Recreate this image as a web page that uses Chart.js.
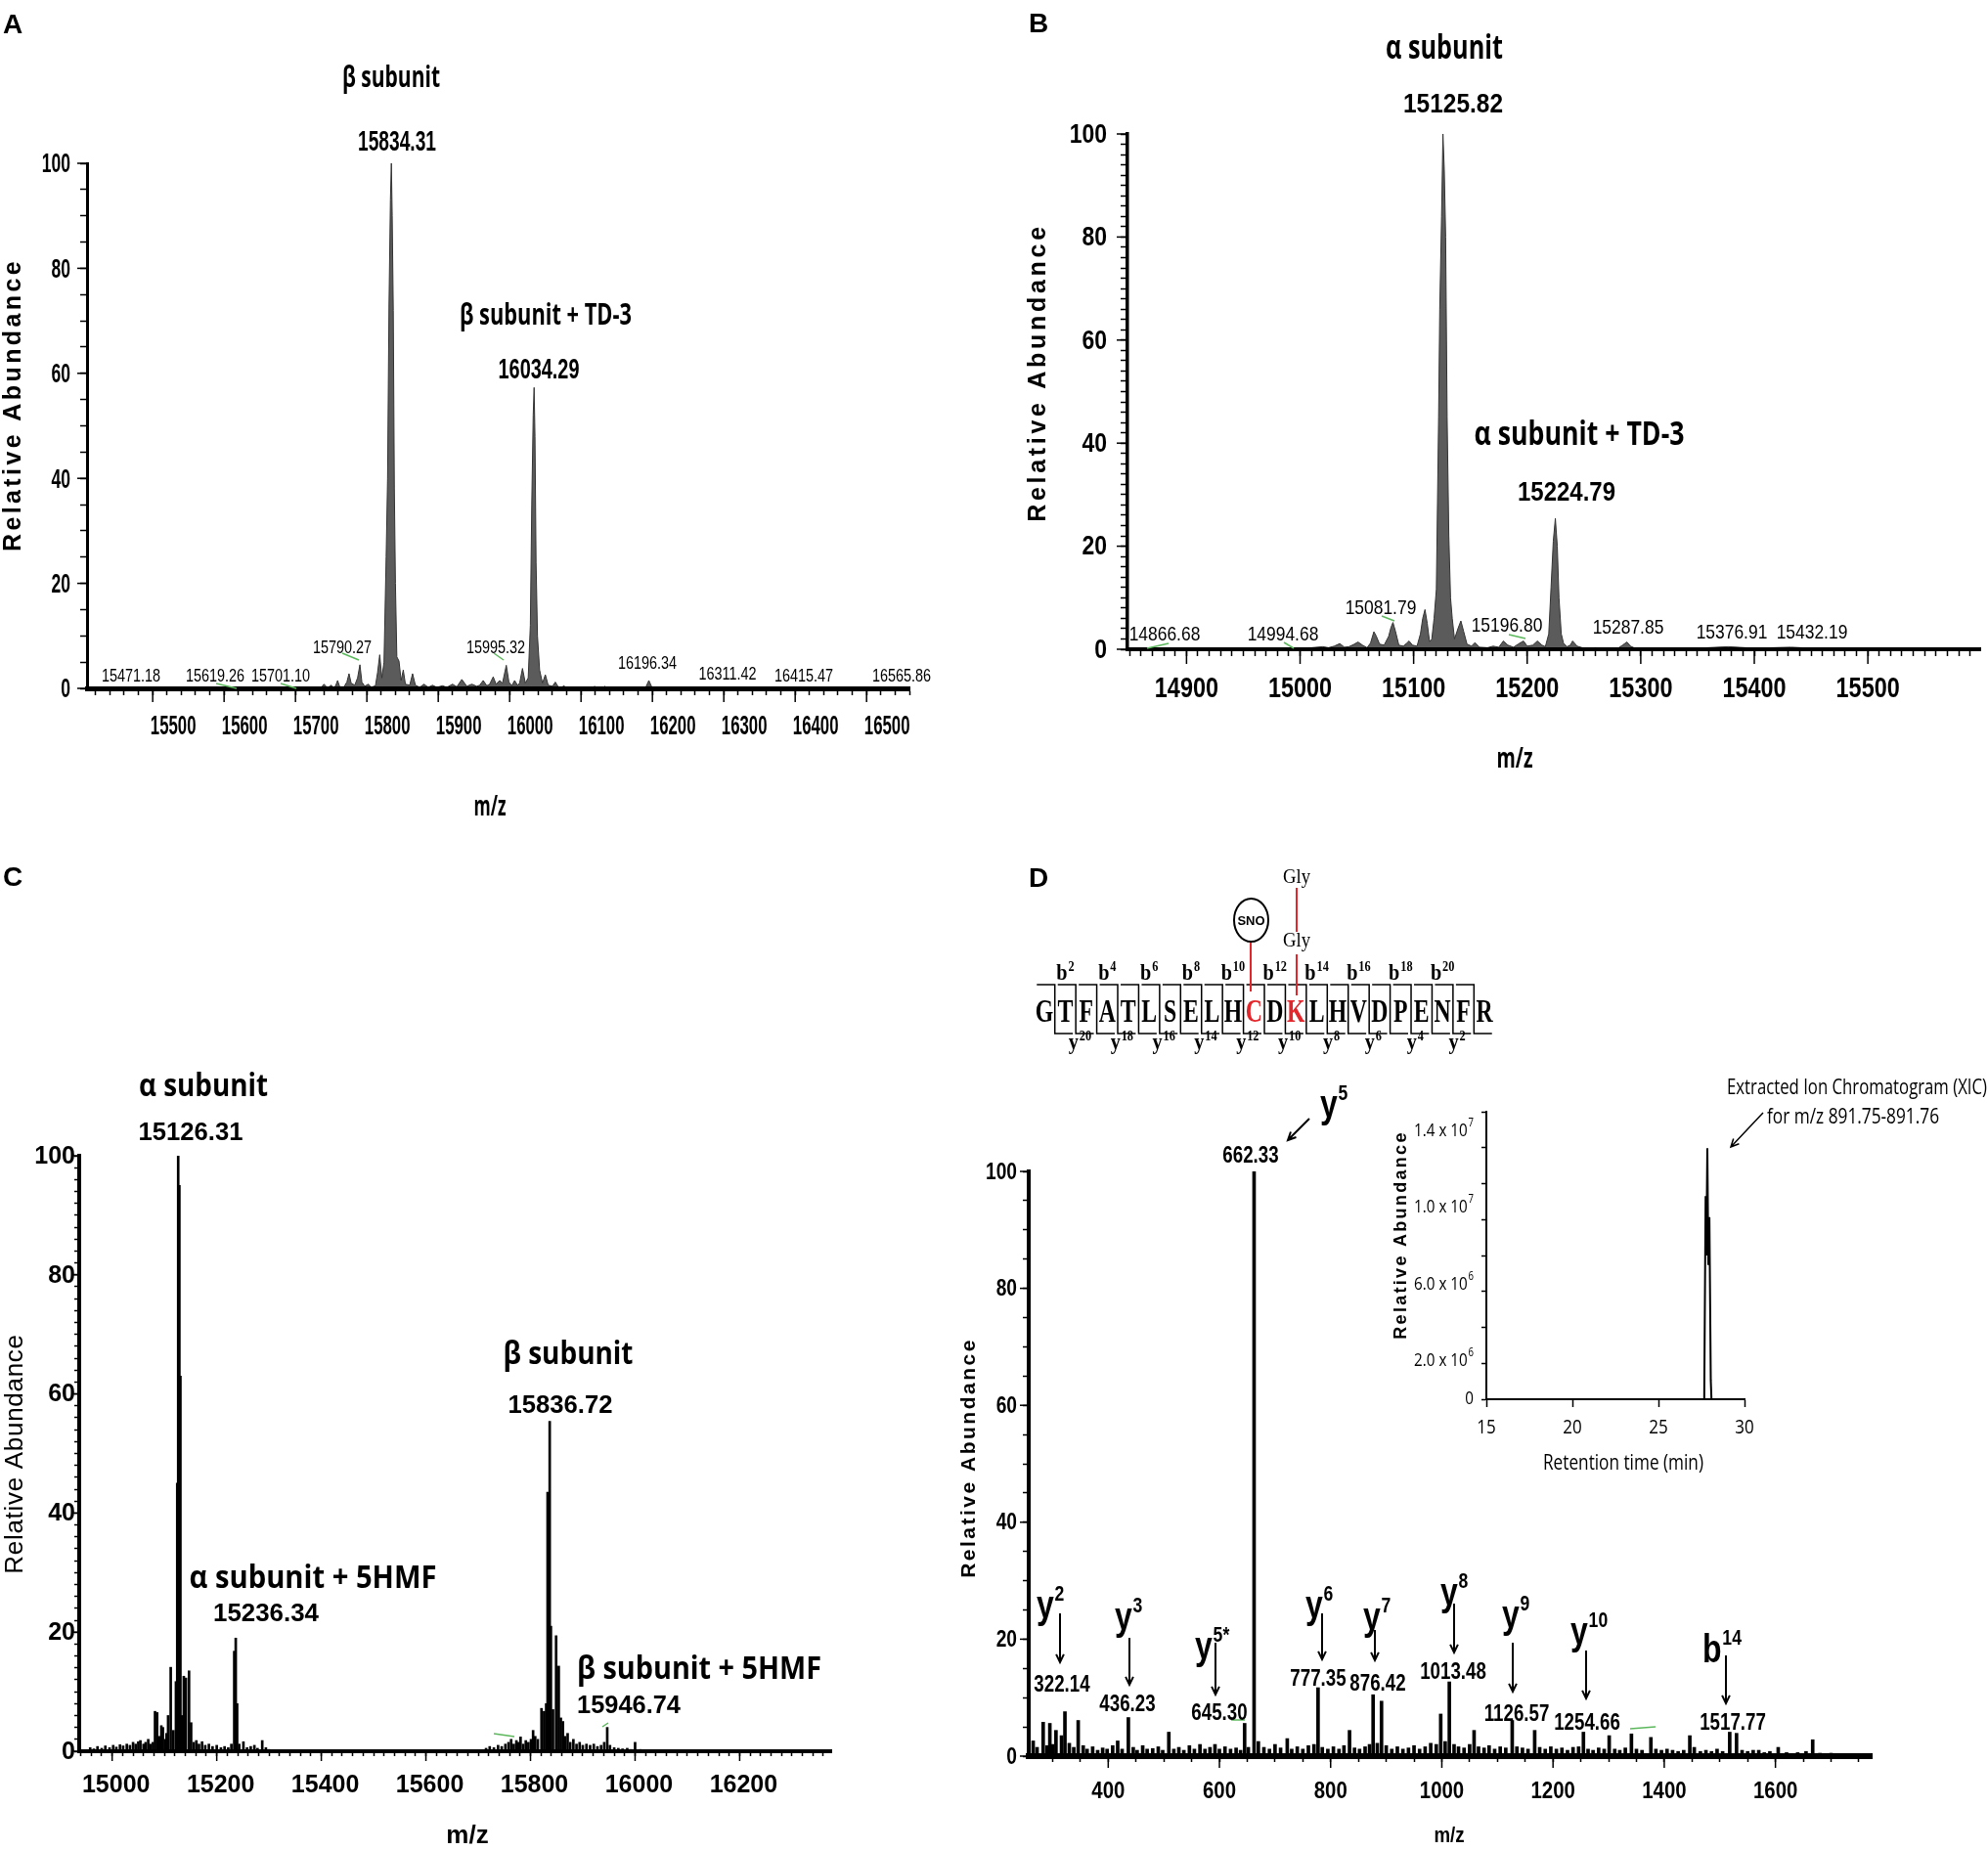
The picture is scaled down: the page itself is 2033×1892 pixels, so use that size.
<!DOCTYPE html>
<html lang="en">
<head>
  <meta charset="UTF-8" />
  <title>Hemoglobin subunits - deconvoluted spectra and MS/MS</title>
  <script src="https://cdn.jsdelivr.net/npm/chart.js"></script>
  <style>
    html, body { margin: 0; padding: 0; background: #fff; }
    #page { position: relative; width: 2033px; height: 1892px; overflow: hidden; background: #fff; }
    #page canvas { position: absolute; left: 0; top: 0; }
  </style>
</head>
<body>
  <div id="page">
    <canvas id="panelA" width="2033" height="1892"></canvas>
    <canvas id="panelB" width="2033" height="1892"></canvas>
    <canvas id="panelC" width="2033" height="1892"></canvas>
    <canvas id="panelD" width="2033" height="1892"></canvas>
    <canvas id="panelXic" width="2033" height="1892"></canvas>
  </div>

  <script>
    // ---------- values ----------
    // A: beta subunit, deconvoluted profile (m/z, relative abundance)
    const aMz = [
      15408, 15735, 15740, 15744, 15747, 15750, 15753, 15756, 15759, 15762,
      15768, 15772, 15775, 15778, 15783, 15787, 15790.27, 15793, 15797, 15802,
      15806, 15812, 15815, 15818, 15821, 15824, 15827, 15829, 15831, 15833,
      15834.31, 15835.5, 15837, 15838.5, 15840, 15842, 15845, 15848, 15851, 15854,
      15860, 15864, 15868, 15874, 15880, 15886, 15892, 15898, 15906, 15912,
      15920, 15926, 15933, 15940, 15947, 15954, 15958, 15963, 15968, 15972,
      15977, 15981, 15986, 15990, 15995.32, 15999, 16003, 16007, 16011, 16014,
      16018, 16022, 16026, 16029, 16031, 16033, 16034.29, 16035.5, 16037, 16039,
      16042, 16046, 16050, 16054, 16060, 16064, 16068, 16073, 16076, 16080,
      16115, 16119, 16123, 16130, 16133, 16136, 16190, 16195, 16200, 16560
    ];
    const aAb = [
      0, 0, 0.8, 0.2, 0.3, 0.6, 0.2, 0.4, 1.5, 0.3,
      0.3, 1.2, 2.8, 1.0, 0.6, 2.0, 4.5, 1.2, 0.4, 0.8,
      0.2, 0.5, 3.0, 6.4, 2.0, 5.0, 25, 40, 73, 93,
      100, 90, 72, 38, 20, 6.0, 5.2, 1.5, 3.5, 0.8,
      0.6, 2.8, 0.6, 0.2, 0.8, 0.2, 0.6, 0.2, 0.5, 0.2,
      0.8, 0.3, 1.7, 0.4, 0.8, 0.4, 0.6, 1.5, 0.5, 0.8,
      2.2, 0.8, 1.5, 1.0, 4.4, 1.2, 0.5, 1.5, 0.6, 1.0,
      3.8, 1.0, 2.0, 12, 35, 52, 57.3, 48, 24, 10,
      3.5, 1.0, 2.6, 0.6, 0.4, 1.2, 0.3, 0.2, 0.5, 0,
      0, 0.4, 0, 0, 0.4, 0, 0, 1.5, 0, 0
    ];

    // B: alpha subunit, deconvoluted profile
    const bMz = [
      14848, 14870, 14900, 14940, 14980, 15010, 15020, 15025, 15030, 15035,
      15039, 15043, 15047, 15051, 15055, 15059, 15062, 15065, 15067, 15070,
      15074, 15078, 15080, 15081.79, 15084, 15087, 15091, 15094, 15096, 15099,
      15103, 15106, 15108, 15110, 15112, 15114, 15116, 15118, 15120, 15122,
      15123, 15124.6, 15125.82, 15127, 15128.2, 15129.5, 15131, 15132.5, 15134, 15136,
      15139, 15141.6, 15144, 15147, 15151, 15154, 15158, 15165, 15170, 15175,
      15179, 15183, 15188, 15192, 15196.8, 15200, 15205, 15209, 15213, 15216,
      15219, 15221, 15223, 15224.79, 15226.5, 15228, 15230, 15232, 15235, 15238,
      15240, 15244, 15250, 15260, 15270, 15280, 15284, 15287.85, 15291, 15296,
      15320, 15350, 15376.91, 15400, 15432.19, 15450, 15470, 15480, 15599
    ];
    const bAb = [
      0, 0.2, 0.1, 0.2, 0.2, 0.3, 0.5, 0.3, 0.6, 1.1,
      0.4, 0.5, 0.9, 1.4, 0.8, 0.3, 1.2, 3.4, 2.6, 1.0,
      0.8, 2.5, 4.2, 5.2, 3.5, 0.8, 0.6, 1.2, 1.6, 0.8,
      0.6, 3.0, 6.0, 7.7, 5.0, 1.5, 2.0, 6.0, 11.6, 45,
      66, 84, 100, 93, 80, 45, 22, 10, 6.0, 2.0,
      4.0, 5.5, 3.5, 1.0, 0.6, 1.3, 0.4, 0.3, 0.6, 0.4,
      1.6, 0.8, 0.4, 1.0, 1.6, 0.6, 0.8, 1.6, 0.8, 0.5,
      3.0, 12, 21, 25.4, 20, 10, 3.0, 1.2, 0.5, 0.8,
      1.6, 0.6, 0.2, 0.3, 0.2, 0.2, 0.8, 1.4, 0.6, 0.1,
      0.2, 0.2, 0.5, 0.2, 0.4, 0.2, 0.2, 0, 0
    ];

    // C: alpha + beta with 5HMF, centroid sticks
    const cMz = [
      14958, 14965, 14972, 14980, 14987, 14995, 15002, 15008, 15015, 15021,
      15028, 15034, 15040, 15045, 15050, 15054, 15060, 15064, 15069, 15073,
      15078, 15082, 15086, 15090, 15094, 15097, 15101, 15104, 15107, 15112,
      15117, 15122, 15124.5, 15126.31, 15128.5, 15130.5, 15134, 15137, 15141, 15147,
      15151, 15156, 15161, 15166, 15172, 15178, 15185, 15192, 15200, 15208,
      15215, 15222, 15228, 15233.5, 15236.34, 15239, 15243, 15251, 15258, 15265,
      15272, 15278, 15287, 15294, 15300, 15715, 15722, 15730, 15738, 15745,
      15752, 15758, 15763, 15768, 15773, 15777, 15781, 15786, 15791, 15796,
      15801, 15805, 15809, 15814, 15821, 15826, 15830, 15832.7, 15836.72, 15839,
      15843, 15849, 15854, 15858, 15862, 15866, 15871, 15876, 15882, 15888,
      15894, 15900, 15907, 15914, 15921, 15928, 15935, 15941, 15946.74, 15952,
      15960, 15968, 15976, 15985, 15992, 16000, 16010, 16025
    ];
    const cAb = [
      0.6, 0.4, 0.8, 0.5, 0.9, 0.6, 1.0, 0.7, 1.1, 0.9,
      1.2, 1.0, 1.5, 1.2, 1.6, 1.8, 1.2, 1.5, 2.0, 1.2,
      1.5, 6.7, 6.5, 2.5, 4.3, 4.0, 2.0, 3.0, 6.0, 14.1,
      3.5, 11.7, 45, 100, 95, 63, 6.0, 12.6, 12.3, 13.5,
      4.8, 1.5, 1.8, 1.2, 1.6, 1.0, 1.2, 0.8, 1.0, 0.6,
      0.8, 0.6, 1.2, 16.8, 19, 8.0, 1.2, 1.6, 0.6, 0.8,
      1.0, 0.5, 1.8, 0.6, 0.3, 0.5, 0.8, 0.6, 1.0, 0.8,
      1.2, 1.5, 2.0, 1.2, 1.8, 1.5, 2.4, 1.2, 1.8, 1.5,
      2.0, 3.5, 2.5, 2.0, 7.2, 6.7, 8.0, 43.5, 55.4, 21,
      7.0, 19.4, 14.3, 5.6, 5.0, 2.5, 3.0, 1.5, 2.0, 1.2,
      1.5, 1.0, 1.2, 1.0, 1.2, 0.8, 1.0, 1.5, 4.0, 1.0,
      0.6, 0.5, 0.4, 0.5, 0.3, 1.5, 0.3, 0.2
    ];

    // D: MS/MS of the cross-linked peptide
    const dMz = [
      265, 272, 283, 290, 295, 300, 306, 316, 322.14, 330,
      338, 346, 355, 362, 372, 381, 390, 398, 408, 417,
      425, 436.23, 445, 452, 462, 470, 480, 490, 498, 509,
      518, 527, 536, 546, 555, 565, 574, 583, 592, 600,
      610, 620, 630, 638, 645.3, 652, 662.33, 670, 680, 690,
      700, 710, 722, 730, 740, 750, 760, 770, 777.35, 785,
      795, 805, 815, 824, 834, 843, 852, 862, 870, 876.42,
      884, 891.5, 900, 910, 920, 930, 940, 950, 960, 970,
      980, 990, 998, 1006, 1013.48, 1022, 1030, 1040, 1050, 1058,
      1066, 1076, 1085, 1095, 1105, 1115, 1126.57, 1135, 1145, 1155,
      1167, 1176, 1186, 1196, 1206, 1216, 1226, 1236, 1246, 1254.66,
      1263, 1272, 1282, 1292, 1301, 1311, 1320, 1330, 1341, 1350,
      1360, 1376, 1385, 1395, 1405, 1415, 1425, 1435, 1446, 1454,
      1465, 1475, 1485, 1495, 1505, 1517.77, 1530, 1540, 1550, 1560,
      1570, 1580, 1590, 1605, 1620, 1640, 1655, 1667, 1680, 1700,
      1720, 1740, 1760
    ];
    const dAb = [
      2.6, 1.5, 5.8, 1.8, 5.6, 2.0, 4.4, 3.5, 7.6, 2.2,
      1.5, 6.1, 1.8, 1.2, 1.6, 1.0, 1.4, 1.2, 1.8, 2.6,
      1.2, 6.6, 1.5, 1.0, 1.8, 1.2, 1.3, 1.6, 1.0, 4.1,
      1.2, 1.5, 1.0, 1.8, 1.2, 2.0, 1.2, 1.5, 2.0, 1.2,
      1.6, 1.2, 1.4, 1.0, 5.6, 1.5, 100, 2.5, 1.5, 1.2,
      2.0, 1.4, 3.0, 1.2, 1.6, 1.2, 1.8, 2.0, 11.7, 1.5,
      1.2, 1.6, 1.2, 1.8, 4.4, 1.4, 1.2, 1.6, 2.0, 10.5,
      2.2, 9.4, 1.8, 1.2, 1.6, 1.2, 1.4, 1.8, 1.2, 1.6,
      2.2, 2.0, 7.2, 2.5, 12.7, 2.0, 1.6, 1.4, 2.0, 4.4,
      1.6, 1.4, 1.8, 1.2, 1.6, 1.4, 6.1, 1.6, 1.4, 1.2,
      4.4, 1.5, 1.2, 1.6, 1.2, 1.4, 1.0, 1.5, 1.6, 4.1,
      1.2, 1.0, 1.4, 1.2, 3.5, 1.2, 1.0, 1.4, 3.8, 1.2,
      1.0, 3.2, 1.2, 1.0, 1.2, 1.0, 0.8, 1.0, 3.5, 1.5,
      0.8, 1.0, 0.8, 1.2, 0.8, 4.1, 3.9, 1.0, 0.8, 1.0,
      1.0, 0.6, 0.8, 1.5, 0.6, 0.6, 0.8, 2.8, 0.5, 0.5,
      0.4, 0.4, 0.3
    ];

    // D inset: extracted ion chromatogram
    const xicTime = [15, 27.66, 27.74, 27.78, 27.84, 27.9, 27.96, 28.04, 28.08, 30];
    const xicInt = [0, 0, 1.06e7, 7.5e6, 1.31e7, 7.0e6, 9.5e6, 1.0e6, 0, 0];

    // tick labels
    const aXTicks = [15500, 15600, 15700, 15800, 15900, 16000, 16100, 16200, 16300, 16400, 16500];
    const bXTicks = [14900, 15000, 15100, 15200, 15300, 15400, 15500];
    const cXTicks = [15000, 15200, 15400, 15600, 15800, 16000, 16200];
    const dXTicks = [400, 600, 800, 1000, 1200, 1400, 1600];
    const abTicks = [0, 20, 40, 60, 80, 100];
    const xicXTicks = [15, 20, 25, 30];
    const xicYTicks = [0, 2e6, 6e6, 1e7, 1.4e7];
    const xicYLabels = [['0', ''], ['2.0 x 10', '6'], ['6.0 x 10', '6'], ['1.0 x 10', '7'], ['1.4 x 10', '7']];

    // peptide sequence and fragment ladder
    const peptide = 'GTFATLSELHCDKLHVDPENFR';
    const bIons = [2, 4, 6, 8, 10, 12, 14, 16, 18, 20];
    const yIons = [20, 18, 16, 14, 12, 10, 8, 6, 4, 2];

    // ---------- drawing helpers ----------
    const W = 2033, H = 1892, FIT = 1;
    const ARIAL = '"Liberation Sans", Arial, sans-serif';
    const SANS = '"Open Sans", "Noto Sans", sans-serif';
    const SERIF = '"Liberation Serif", "Times New Roman", serif';
    const RED = '#e3262b';

    function seg(ctx, x1, y1, x2, y2) {
      ctx.beginPath(); ctx.moveTo(x1, y1); ctx.lineTo(x2, y2); ctx.stroke();
    }

    function arrow(ctx, x1, y1, x2, y2, head, lw) {
      const ang = Math.atan2(y2 - y1, x2 - x1);
      ctx.lineWidth = lw;
      ctx.beginPath();
      ctx.moveTo(x1, y1); ctx.lineTo(x2, y2);
      ctx.moveTo(x2 - head * Math.cos(ang - 0.45), y2 - head * Math.sin(ang - 0.45));
      ctx.lineTo(x2, y2);
      ctx.lineTo(x2 - head * Math.cos(ang + 0.45), y2 - head * Math.sin(ang + 0.45));
      ctx.stroke();
    }

    // text with optional superscript, horizontal squeeze (sx) or fit width (w)
    function drawText(ctx, t) {
      ctx.save();
      ctx.fillStyle = t.color || '#000';
      ctx.textBaseline = t.base || 'middle';
      ctx.textAlign = 'left';
      if (t.ls && 'letterSpacing' in ctx) ctx.letterSpacing = t.ls + 'px';
      ctx.font = t.font;
      const wb = ctx.measureText(t.text).width;
      let ws = 0;
      if (t.sup) { ctx.font = t.supFont; ws = ctx.measureText(t.sup).width + 1; ctx.font = t.font; }
      const nat = wb + ws;
      const sx = t.w ? t.w / nat : (t.sx || 1);
      ctx.translate(t.x, t.y);
      if (t.rot) ctx.rotate(t.rot);
      ctx.scale(sx, 1);
      const al = t.align || 'center';
      const ox = al === 'center' ? -nat / 2 : (al === 'right' ? -nat : 0);
      ctx.fillText(t.text, ox, 0);
      if (t.sup) { ctx.font = t.supFont; ctx.fillText(t.sup, ox + wb + 1, -(t.supDy || 0)); }
      ctx.restore();
    }

    function annotator(cfg) {
      return {
        id: 'annot',
        afterDraw(chart) {
          const ctx = chart.ctx, xs = chart.scales.x, ys = chart.scales.y, a = chart.chartArea;
          ctx.save();
          ctx.strokeStyle = '#000';
          ctx.lineWidth = 1.5;
          if (cfg.xMajor) cfg.xLabels.values.forEach(v => {
            const px = xs.getPixelForValue(v); seg(ctx, px, a.bottom, px, a.bottom + cfg.xMajor);
          });
          if (cfg.yMajor) cfg.yLabels.values.forEach(v => {
            const py = ys.getPixelForValue(v); seg(ctx, a.left, py, a.left - cfg.yMajor, py);
          });
          const xl = cfg.xLabels;
          xl.values.forEach(v => drawText(ctx, {
            text: String(v), x: xs.getPixelForValue(v) + (xl.dx || 0), y: xl.y, font: xl.font, sx: xl.sx
          }));
          const yl = cfg.yLabels;
          yl.values.forEach((v, i) => {
            const lab = yl.text ? yl.text[i] : [String(v), ''];
            drawText(ctx, {
              text: lab[0], sup: lab[1], supFont: yl.supFont, supDy: yl.supDy,
              x: yl.x, y: ys.getPixelForValue(v) + (yl.dy || 0), font: yl.font, sx: yl.sx, align: 'right'
            });
          });
          ctx.strokeStyle = '#5cb85c';
          ctx.lineWidth = 1.5;
          (cfg.leaders || []).forEach(l => seg(ctx, l[0], l[1], l[2], l[3]));
          ctx.strokeStyle = '#000';
          (cfg.arrows || []).forEach(r => arrow(ctx, r[0], r[1], r[2], r[3], 9, r[4] || 2));
          (cfg.texts || []).forEach(t => drawText(ctx, t));
          if (cfg.extra) cfg.extra(ctx);
          ctx.restore();
        }
      };
    }

    function linScale(min, max, step, tickLen, borderW, isX) {
      return {
        type: 'linear', min, max, offset: false,
        border: { display: true, color: '#000', width: borderW, z: 1 },
        grid: { display: true, drawOnChartArea: false, drawTicks: true, tickLength: tickLen, tickWidth: 1.5, tickColor: '#000', offset: false },
        ticks: { stepSize: step, autoSkip: false, includeBounds: false, maxRotation: 0, color: 'rgba(0,0,0,0)', font: { size: 10 } },
        afterFit(s) { if (isX) s.height = FIT; else s.width = FIT; }
      };
    }

    function makeChart(id, g, type, dataset, annot) {
      return new Chart(document.getElementById(id), {
        type,
        data: { datasets: [dataset] },
        options: {
          responsive: false, animation: false, devicePixelRatio: 1, events: [],
          layout: { autoPadding: false, padding: { left: g.L - FIT, right: W - g.R, top: g.T, bottom: H - g.B - FIT } },
          plugins: { legend: { display: false }, tooltip: { enabled: false } },
          scales: {
            x: linScale(g.x[0], g.x[1], g.x[2], g.tx, g.bx, true),
            y: linScale(0, g.ymax, g.ystep, g.ty, g.by, false)
          }
        },
        plugins: [annotator(annot)]
      });
    }

    const pts = (xs, ys) => xs.map((x, i) => ({ x, y: ys[i] }));
    const profile = (xs, ys) => ({
      data: pts(xs, ys), borderColor: '#333', borderWidth: 1, backgroundColor: '#5b5b5b',
      fill: 'origin', pointRadius: 0, tension: 0
    });
    const sticks = (xs, ys, thick) => ({
      data: pts(xs, ys), backgroundColor: '#000', borderWidth: 0, barThickness: thick, grouped: false
    });
    const small = (text, x, y, size, sx) => ({ text, x, y, font: size + 'px ' + ARIAL, sx });
    const bold = (text, x, y, size, fam, w) => ({ text, x, y, font: 'bold ' + size + 'px ' + fam, w });
    const letter = (text, x, y) => ({ text, x, y, base: 'alphabetic', align: 'left', font: 'bold 28px ' + ARIAL });
    const ion = (b, s, x, y) => ({
      text: b, sup: s, x, y, base: 'alphabetic', align: 'left',
      font: 'bold 40px ' + ARIAL, supFont: 'bold 22px ' + ARIAL, supDy: 18, sx: 0.8
    });
    const num = (text, x, y) => ({ text, x, y, font: 'bold 24px ' + ARIAL, sx: 0.78 });
    const vTitle = (x, y, font, ls) => ({ text: 'Relative Abundance', x, y, rot: -Math.PI / 2, font, ls });

    // ---------- panel A ----------
    makeChart('panelA',
      { L: 89, R: 930, T: 167, B: 704, x: [15408, 16560, 20], ymax: 100, ystep: 5, tx: 7, ty: 7, bx: 5, by: 3 },
      'line', profile(aMz, aAb),
      {
        xLabels: { values: aXTicks, y: 743, dx: 21, font: 'bold 28px ' + ARIAL, sx: 0.6 },
        yLabels: { values: abTicks, x: 72, dy: 2, font: 'bold 27px ' + ARIAL, sx: 0.65 },
        xMajor: 14, yMajor: 10,
        leaders: [[221, 699, 242, 704], [287, 699, 303, 704], [350, 668, 367, 675], [505, 668, 515, 675]],
        texts: [
          letter('A', 3, 34),
          vTitle(14, 414, 'bold 25px ' + ARIAL, 3.4),
          bold('m/z', 501, 826, 28, SANS, 33),
          bold('β subunit', 400, 80, 30, SANS, 100),
          bold('15834.31', 406, 146, 29, ARIAL, 80),
          bold('β subunit + TD-3', 558, 323, 30, SANS, 176),
          bold('16034.29', 551, 379, 29, ARIAL, 83),
          small('15471.18', 134, 692, 19, 0.76), small('15619.26', 220, 692, 19, 0.76),
          small('15701.10', 287, 692, 19, 0.76), small('15790.27', 350, 663, 19, 0.76),
          small('15995.32', 507, 663, 19, 0.76), small('16196.34', 662, 679, 19, 0.76),
          small('16311.42', 744, 690, 19, 0.76), small('16415.47', 822, 692, 19, 0.76),
          small('16565.86', 922, 692, 19, 0.76)
        ]
      });

    // ---------- panel B ----------
    makeChart('panelB',
      { L: 1153, R: 2028, T: 137, B: 664, x: [14848, 15599, 10], ymax: 100, ystep: 2, tx: 7, ty: 7, bx: 4, by: 3.5 },
      'line', profile(bMz, bAb),
      {
        xLabels: { values: bXTicks, y: 705, font: 'bold 30px ' + ARIAL, sx: 0.78 },
        yLabels: { values: abTicks, x: 1132, dy: 1, font: 'bold 28px ' + ARIAL, sx: 0.82 },
        xMajor: 15, yMajor: 11,
        leaders: [[1173, 663, 1195, 658], [1313, 657, 1323, 663], [1413, 630, 1426, 635], [1543, 649, 1560, 653]],
        texts: [
          letter('B', 1052, 33),
          vTitle(1062, 381, 'bold 25px ' + ARIAL, 3.7),
          bold('m/z', 1549, 777, 28, SANS, 37),
          bold('α subunit', 1477, 50, 34, SANS, 120),
          bold('15125.82', 1486, 107, 28, ARIAL, 102),
          bold('α subunit + TD-3', 1615, 445, 34, SANS, 215),
          bold('15224.79', 1602, 504, 28, ARIAL, 100),
          small('14866.68', 1191, 649, 21, 0.83), small('14994.68', 1312, 649, 21, 0.83),
          small('15081.79', 1412, 622, 21, 0.83), small('15196.80', 1541, 640, 21, 0.83),
          small('15287.85', 1665, 642, 21, 0.83), small('15376.91', 1771, 647, 21, 0.83),
          small('15432.19', 1853, 647, 21, 0.83)
        ]
      });

    // ---------- panel C ----------
    makeChart('panelC',
      { L: 81, R: 850, T: 1182, B: 1791, x: [14937, 16375, 20], ymax: 100, ystep: 2, tx: 5, ty: 5, bx: 4, by: 4 },
      'bar', sticks(cMz, cAb, 2),
      {
        xLabels: { values: cXTicks, y: 1826, dx: 4, font: 'bold 25px ' + ARIAL, sx: 1 },
        yLabels: { values: abTicks, x: 77, dy: 1, font: 'bold 25px ' + ARIAL, sx: 1 },
        xMajor: 10, yMajor: 8,
        leaders: [[505, 1773, 526, 1776], [616, 1766, 622, 1762]],
        texts: [
          letter('C', 3, 906),
          vTitle(16, 1487, '26px ' + ARIAL, 0.7),
          { text: 'm/z', x: 478, y: 1878, font: 'bold 26px ' + ARIAL },
          bold('α subunit', 208, 1112, 33, SANS, 132),
          bold('15126.31', 195, 1159, 26, ARIAL, 107),
          bold('β subunit', 581, 1386, 33, SANS, 133),
          bold('15836.72', 573, 1438, 26, ARIAL, 107),
          bold('α subunit + 5HMF', 320, 1615, 33, SANS, 253),
          bold('15236.34', 272, 1651, 26, ARIAL, 108),
          bold('β subunit + 5HMF', 715, 1708, 33, SANS, 250),
          bold('15946.74', 643, 1745, 26, ARIAL, 106)
        ]
      });

    // ---------- panel D ----------
    function drawPeptide(ctx) {
      const x0 = 1068, sp = 21.43, top = 1007, bot = 1057;
      ctx.save();
      ctx.strokeStyle = '#000';
      ctx.lineWidth = 1.5;
      for (let i = 0; i < peptide.length - 1; i++) {
        const gx = x0 + (i + 0.5) * sp;
        ctx.beginPath();
        ctx.moveTo(gx - sp + 3, top); ctx.lineTo(gx, top); ctx.lineTo(gx, bot); ctx.lineTo(gx + sp - 3, bot);
        ctx.stroke();
      }
      peptide.split('').forEach((ch, i) => drawText(ctx, {
        text: ch, x: x0 + i * sp, y: 1045, base: 'alphabetic', font: 'bold 33px ' + SERIF, sx: 0.72,
        color: (i === 10 || i === 12) ? RED : '#000'
      }));
      bIons.forEach(n => drawText(ctx, {
        text: 'b', sup: String(n), x: x0 + (n - 1) * sp, y: 1002, base: 'alphabetic',
        font: 'bold 23px ' + SERIF, supFont: 'bold 14px ' + SERIF, supDy: 9, sx: 0.88
      }));
      yIons.forEach(n => drawText(ctx, {
        text: 'y', sup: String(n), x: x0 + (22 - n - 0.3) * sp, y: 1073, base: 'alphabetic',
        font: 'bold 23px ' + SERIF, supFont: 'bold 14px ' + SERIF, supDy: 9, sx: 0.88
      }));
      // S-nitroso tag on Cys and Gly-Gly on Lys
      ctx.lineWidth = 2;
      ctx.beginPath();
      ctx.ellipse(1279.5, 941, 17.5, 22, 0, 0, Math.PI * 2);
      ctx.stroke();
      drawText(ctx, { text: 'SNO', x: 1279.5, y: 942, font: 'bold 13px ' + ARIAL });
      ctx.strokeStyle = RED;
      seg(ctx, 1279, 964, 1279, 1014);
      seg(ctx, 1326, 908, 1326, 953);
      seg(ctx, 1326, 976, 1326, 1018);
      drawText(ctx, { text: 'Gly', x: 1326, y: 903, base: 'alphabetic', font: '22px ' + SERIF, sx: 0.85 });
      drawText(ctx, { text: 'Gly', x: 1326, y: 968, base: 'alphabetic', font: '22px ' + SERIF, sx: 0.85 });
      ctx.restore();
    }

    makeChart('panelD',
      { L: 1052, R: 1914, T: 1198, B: 1796, x: [257, 1773, 50], ymax: 100, ystep: 5, tx: 6, ty: 6, bx: 6, by: 4 },
      'bar', sticks(dMz, dAb, 3),
      {
        xLabels: { values: dXTicks, y: 1832, font: 'bold 24px ' + ARIAL, sx: 0.85 },
        yLabels: { values: abTicks, x: 1040, dy: 1, font: 'bold 24px ' + ARIAL, sx: 0.8 },
        xMajor: 12, yMajor: 9,
        leaders: [[1259, 1759, 1273, 1759], [1667, 1768, 1693, 1766]],
        arrows: [
          [1084, 1650, 1084, 1700], [1155, 1675, 1155, 1723], [1243, 1680, 1243, 1733],
          [1352, 1650, 1352, 1697], [1406, 1667, 1406, 1698], [1487, 1640, 1487, 1690],
          [1547, 1680, 1547, 1730], [1622, 1688, 1622, 1737], [1765, 1693, 1765, 1742],
          [1339, 1144, 1317, 1166]
        ],
        texts: [
          letter('D', 1052, 907),
          vTitle(991, 1491, 'bold 21px ' + ARIAL, 2.5),
          { text: 'm/z', x: 1482, y: 1878, font: 'bold 22px ' + ARIAL, sx: 0.85 },
          ion('y', '5', 1350, 1143), num('662.33', 1279, 1182),
          ion('y', '2', 1060, 1655), num('322.14', 1086, 1723),
          ion('y', '3', 1140, 1667), num('436.23', 1153, 1743),
          ion('y', '5*', 1222, 1697), num('645.30', 1247, 1752),
          ion('y', '6', 1335, 1655), num('777.35', 1348, 1717),
          ion('y', '7', 1394, 1667), num('876.42', 1409, 1722),
          ion('y', '8', 1473, 1642), num('1013.48', 1486, 1710),
          ion('y', '9', 1536, 1665), num('1126.57', 1551, 1753),
          ion('y', '10', 1606, 1682), num('1254.66', 1623, 1762),
          ion('b', '14', 1741, 1700), num('1517.77', 1772, 1762)
        ],
        extra: drawPeptide
      });

    // ---------- D inset: XIC ----------
    makeChart('panelXic',
      { L: 1520, R: 1784, T: 1137, B: 1431, x: [15, 30, 5], ymax: 1.5e7, ystep: 2e6, tx: 8, ty: 5, bx: 2, by: 2 },
      'line',
      { data: pts(xicTime, xicInt), borderColor: '#000', borderWidth: 2, fill: false, pointRadius: 0, tension: 0 },
      {
        xLabels: { values: xicXTicks, y: 1460, font: '20px ' + SANS, sx: 0.85 },
        yLabels: { values: xicYTicks, text: xicYLabels, x: 1507, dy: 0, font: '19px ' + SANS, supFont: '12px ' + SANS, supDy: 8, sx: 0.8 },
        arrows: [[1803, 1138, 1770, 1173, 1.5]],
        texts: [
          vTitle(1433, 1263, 'bold 18px ' + ARIAL, 2.3),
          { text: 'Retention time (min)', x: 1660, y: 1497, font: '22px ' + SANS, w: 164 },
          { text: 'Extracted Ion Chromatogram (XIC)', x: 1899, y: 1113, font: '22px ' + SANS, w: 266 },
          { text: 'for m/z 891.75-891.76', x: 1895, y: 1143, font: '22px ' + SANS, w: 176 }
        ]
      });
  </script>
</body>
</html>
